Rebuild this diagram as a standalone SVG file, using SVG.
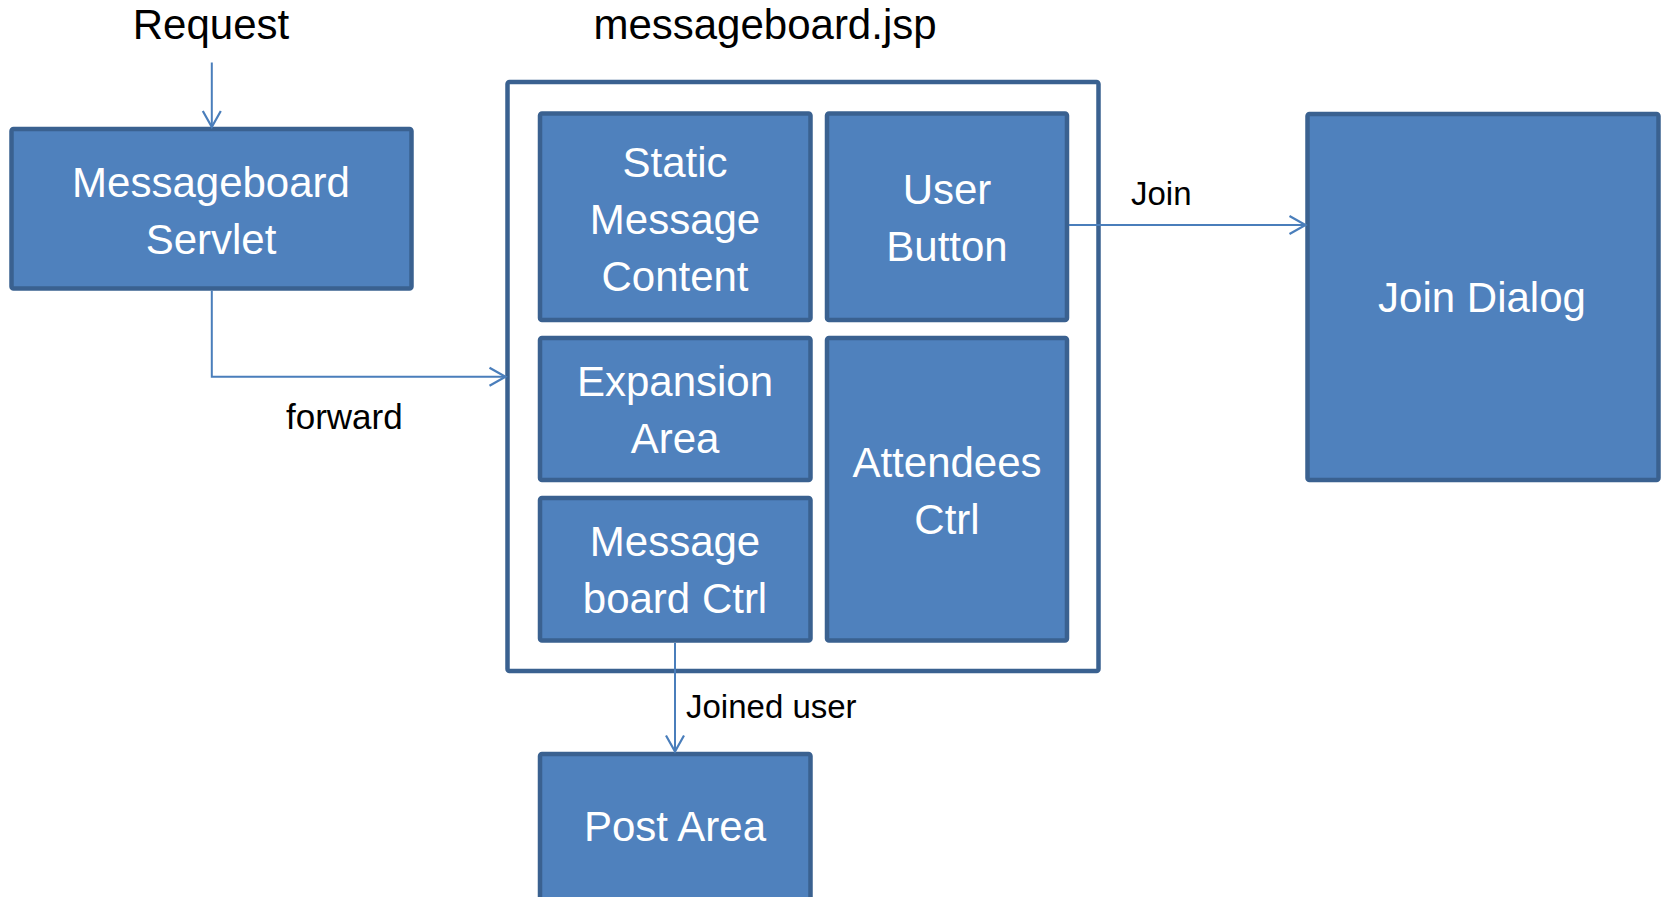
<svg xmlns="http://www.w3.org/2000/svg" width="1661" height="897" viewBox="0 0 1661 897">
  <style>
    .box { fill: #4f81bd; stroke: #3a6190; stroke-width: 4.5; }
    .frame { fill: #ffffff; stroke: #3a6190; stroke-width: 4.5; }
    .btxt { font-family: "Liberation Sans", Arial, sans-serif; font-size: 42px; fill: #ffffff; text-anchor: middle; }
    .title { font-family: "Liberation Sans", Arial, sans-serif; font-size: 42px; fill: #000000; text-anchor: middle; }
    .lbl { font-family: "Liberation Sans", Arial, sans-serif; font-size: 33px; fill: #000000; }
    .conn { fill: none; stroke: #4a7ebb; stroke-width: 2; }
  </style>
  <defs>
    <marker id="arrow" markerUnits="userSpaceOnUse" markerWidth="24" markerHeight="24" viewBox="-20 -12 24 24" refX="0" refY="0" orient="auto">
      <path d="M -16 -9 L 0 0 L -16 9" fill="none" stroke="#4a7ebb" stroke-width="2.2"/>
    </marker>
  </defs>
  <rect width="1661" height="897" fill="#ffffff"/>

  <text class="title" x="211" y="39">Request</text>
  <text class="title" x="765" y="39">messageboard.jsp</text>

  <g id="messageboard-servlet">
    <rect class="box" x="11.5" y="129" width="400" height="159.5" rx="2"/>
    <text class="btxt" x="211" y="197">Messageboard</text>
    <text class="btxt" x="211" y="254">Servlet</text>
  </g>

  <g id="messageboard-jsp">
    <rect class="frame" x="507.5" y="82" width="591" height="589" rx="2"/>
  </g>

  <g id="static-message-content">
    <rect class="box" x="540" y="113.5" width="270.5" height="206.5" rx="2"/>
    <text class="btxt" x="675" y="177">Static</text>
    <text class="btxt" x="675" y="234">Message</text>
    <text class="btxt" x="675" y="291">Content</text>
  </g>

  <g id="user-button">
    <rect class="box" x="827" y="113.5" width="240" height="206.5" rx="2"/>
    <text class="btxt" x="947" y="204">User</text>
    <text class="btxt" x="947" y="261">Button</text>
  </g>

  <g id="expansion-area">
    <rect class="box" x="540" y="338" width="270.5" height="142" rx="2"/>
    <text class="btxt" x="675" y="396">Expansion</text>
    <text class="btxt" x="675" y="453">Area</text>
  </g>

  <g id="messageboard-ctrl">
    <rect class="box" x="540" y="498" width="270.5" height="142.5" rx="2"/>
    <text class="btxt" x="675" y="556">Message</text>
    <text class="btxt" x="675" y="613">board Ctrl</text>
  </g>

  <g id="attendees-ctrl">
    <rect class="box" x="827" y="338" width="240" height="302.5" rx="2"/>
    <text class="btxt" x="947" y="477">Attendees</text>
    <text class="btxt" x="947" y="534">Ctrl</text>
  </g>

  <g id="join-dialog">
    <rect class="box" x="1307.5" y="114" width="351" height="366" rx="2"/>
    <text class="btxt" x="1482" y="312">Join Dialog</text>
  </g>

  <g id="post-area">
    <rect class="box" x="540" y="754" width="270.5" height="150" rx="2"/>
    <text class="btxt" x="675" y="841">Post Area</text>
  </g>

  <g id="connectors">
    <line class="conn" x1="211.8" y1="62.5" x2="211.8" y2="127" marker-end="url(#arrow)"/>
    <polyline class="conn" points="211.8,290.5 211.8,376.7 505.5,376.7" marker-end="url(#arrow)"/>
    <line class="conn" x1="1069" y1="225" x2="1305.5" y2="225" marker-end="url(#arrow)"/>
    <line class="conn" x1="675" y1="643" x2="675" y2="751.5" marker-end="url(#arrow)"/>
    <text class="lbl" x="286" y="429" style="font-size:35px">forward</text>
    <text class="lbl" x="1131" y="205">Join</text>
    <text class="lbl" x="686" y="718">Joined user</text>
  </g>
</svg>
